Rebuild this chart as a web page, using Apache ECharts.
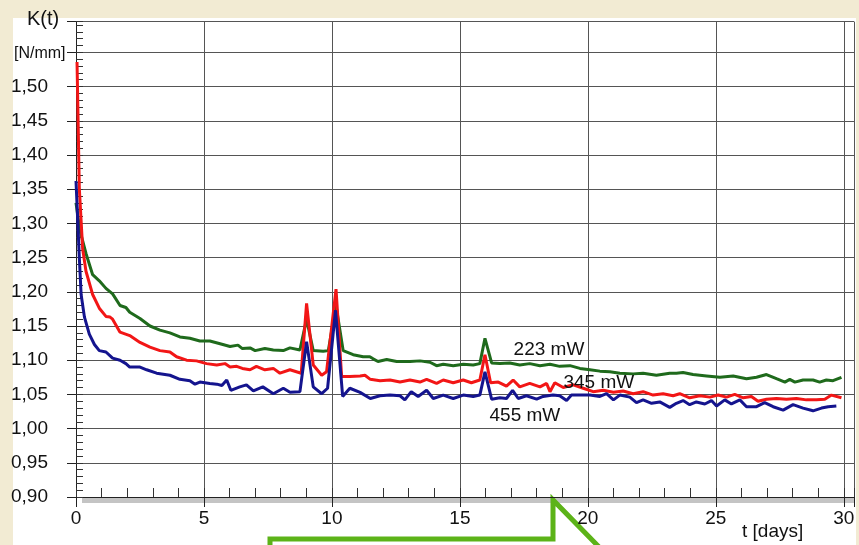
<!DOCTYPE html>
<html>
<head>
<meta charset="utf-8">
<script src="https://cdn.jsdelivr.net/npm/echarts@6/dist/echarts.min.js"></script>
<style>
html,body{margin:0;padding:0;background:#f2ebd3;}
#paper{position:absolute;left:13px;top:18px;width:843px;height:527px;background:#fff;}
#main{position:absolute;left:0;top:0;width:859px;height:545px;}
</style>
</head>
<body>
<div id="paper"></div>
<div id="main"></div>
<script>
// t [days], K(t) [N/mm]
var k223 = [[0.0,1.33],[0.15,1.29],[0.39,1.256],[0.65,1.225],[0.91,1.216],[1.17,1.205],[1.43,1.197],[1.72,1.18],[1.95,1.177],[2.1,1.17],[2.5,1.161],[2.89,1.15],[3.28,1.144],[3.67,1.14],[4.06,1.134],[4.45,1.132],[4.84,1.128],[5.23,1.128],[5.63,1.124],[6.02,1.12],[6.33,1.122],[6.5,1.117],[6.8,1.118],[7.0,1.114],[7.38,1.117],[7.71,1.115],[8.1,1.114],[8.36,1.118],[8.75,1.115],[9.01,1.16],[9.27,1.114],[9.66,1.113],[9.86,1.114],[10.16,1.18],[10.44,1.114],[10.83,1.108],[11.22,1.105],[11.48,1.105],[11.61,1.102],[11.8,1.098],[12.14,1.101],[12.53,1.098],[13.05,1.098],[13.44,1.099],[13.83,1.097],[14.09,1.092],[14.35,1.094],[14.74,1.092],[15.13,1.094],[15.52,1.093],[15.78,1.095],[15.98,1.132],[16.24,1.096],[16.56,1.095],[16.95,1.096],[17.34,1.093],[17.73,1.095],[18.13,1.092],[18.52,1.094],[18.9,1.091],[19.3,1.092],[19.69,1.088],[20.08,1.086],[20.47,1.084],[20.86,1.083],[21.25,1.081],[21.77,1.08],[22.16,1.081],[22.68,1.078],[23.2,1.081],[23.46,1.081],[23.72,1.082],[24.11,1.079],[24.64,1.077],[25.16,1.075],[25.68,1.077],[26.2,1.073],[26.59,1.075],[26.98,1.079],[27.37,1.073],[27.7,1.068],[27.89,1.072],[28.09,1.068],[28.41,1.071],[28.8,1.071],[29.06,1.068],[29.32,1.071],[29.58,1.07],[29.91,1.075]];

var k345 = [[0.04,1.536],[0.13,1.351],[0.26,1.263],[0.39,1.23],[0.65,1.196],[0.91,1.176],[1.17,1.164],[1.33,1.163],[1.43,1.16],[1.72,1.141],[2.1,1.136],[2.5,1.126],[2.89,1.119],[3.28,1.114],[3.67,1.112],[3.93,1.105],[4.32,1.10],[4.71,1.099],[5.1,1.095],[5.5,1.093],[5.82,1.095],[6.02,1.09],[6.28,1.091],[6.5,1.088],[6.8,1.086],[7.05,1.091],[7.38,1.086],[7.71,1.088],[7.97,1.081],[8.36,1.086],[8.8,1.081],[9.01,1.183],[9.27,1.093],[9.6,1.078],[9.79,1.083],[10.16,1.204],[10.38,1.076],[10.7,1.076],[11.1,1.077],[11.29,1.078],[11.5,1.072],[11.88,1.07],[12.27,1.071],[12.66,1.068],[13.05,1.071],[13.44,1.068],[13.7,1.072],[14.09,1.066],[14.35,1.071],[14.74,1.067],[15.13,1.071],[15.45,1.067],[15.78,1.071],[15.98,1.108],[16.2,1.067],[16.5,1.068],[16.82,1.062],[17.08,1.071],[17.34,1.061],[17.73,1.066],[18.13,1.061],[18.39,1.066],[18.52,1.054],[18.71,1.067],[19.04,1.06],[19.43,1.064],[19.82,1.059],[20.21,1.054],[20.6,1.056],[21.0,1.053],[21.38,1.055],[21.77,1.051],[22.16,1.054],[22.55,1.049],[22.94,1.051],[23.33,1.048],[23.59,1.051],[23.98,1.045],[24.38,1.048],[24.77,1.046],[25.09,1.049],[25.42,1.046],[25.74,1.05],[26.07,1.045],[26.39,1.047],[26.65,1.04],[26.98,1.043],[27.37,1.044],[27.76,1.043],[28.15,1.044],[28.54,1.042],[28.93,1.042],[29.26,1.043],[29.52,1.049],[29.91,1.045]];

var k455 = [[0.0,1.362],[0.13,1.25],[0.2,1.196],[0.33,1.163],[0.52,1.138],[0.72,1.123],[0.91,1.114],[1.17,1.112],[1.43,1.103],[1.72,1.10],[1.95,1.095],[2.1,1.09],[2.5,1.09],[2.76,1.086],[3.15,1.081],[3.67,1.078],[4.06,1.072],[4.45,1.07],[4.65,1.065],[4.84,1.068],[5.23,1.066],[5.5,1.065],[5.7,1.063],[5.89,1.071],[6.05,1.056],[6.4,1.061],[6.66,1.064],[6.93,1.055],[7.3,1.061],[7.71,1.051],[8.1,1.059],[8.36,1.053],[8.75,1.054],[9.01,1.127],[9.27,1.061],[9.6,1.051],[9.83,1.059],[10.14,1.173],[10.42,1.047],[10.7,1.059],[11.1,1.053],[11.5,1.044],[11.88,1.048],[12.27,1.049],[12.66,1.048],[12.85,1.042],[13.1,1.054],[13.37,1.047],[13.7,1.056],[13.96,1.044],[14.35,1.049],[14.74,1.044],[15.13,1.049],[15.52,1.047],[15.78,1.049],[15.98,1.083],[16.24,1.043],[16.56,1.045],[16.82,1.044],[17.06,1.056],[17.28,1.044],[17.6,1.048],[18.0,1.043],[18.25,1.047],[18.64,1.049],[18.9,1.048],[19.17,1.041],[19.36,1.049],[19.69,1.049],[20.08,1.049],[20.47,1.047],[20.73,1.051],[21.0,1.042],[21.25,1.049],[21.64,1.046],[21.9,1.038],[22.16,1.042],[22.49,1.037],[22.81,1.039],[23.2,1.031],[23.46,1.037],[23.72,1.041],[23.98,1.035],[24.24,1.039],[24.57,1.036],[24.83,1.041],[25.03,1.033],[25.35,1.042],[25.61,1.036],[25.94,1.042],[26.2,1.032],[26.59,1.032],[26.91,1.038],[27.24,1.032],[27.63,1.027],[28.02,1.035],[28.41,1.03],[28.8,1.026],[29.13,1.03],[29.39,1.032],[29.71,1.033]];

// where the power labels sit, in chart units
var tags = [
  {text:'223 mW', t:18.48, k:1.115},
  {text:'345 mW', t:20.43, k:1.0667},
  {text:'455 mW', t:17.54, k:1.0184}
];

var font = '"Liberation Sans", Arial, sans-serif';
var chart = echarts.init(document.getElementById('main'));

function tagPoint(tag){
  return {
    symbol:'circle', symbolSize:1, silent:true,
    itemStyle:{color:'transparent'},
    label:{show:true, position:'inside', color:'#111', fontSize:19, fontFamily:font, formatter:tag.text},
    data:[{coord:[tag.t, tag.k]}]
  };
}

function mkLine(name, data, color, tag){
  return {
    name:name, type:'line', data:data, symbol:'none',
    xAxisIndex:0, yAxisIndex:0,
    lineStyle:{color:color, width:3}, itemStyle:{color:color},
    markPoint:tagPoint(tag)
  };
}

var yFmt = function(v){
  var r = Math.round(v*100);
  if (v > 1.505 || r % 5 !== 0) return '';
  return (r/100).toFixed(2).replace('.', ',');
};

chart.setOption({
  animation:false,
  backgroundColor:'transparent',
  grid:{left:76, right:5, top:21.6, bottom:48},
  xAxis:[{
    type:'value', position:'bottom', min:0, max:30.4, interval:5,
    axisLine:{show:true, onZero:false, lineStyle:{color:'#222', width:1}},
    axisTick:{show:true, length:10, lineStyle:{color:'#222'}},
    axisLabel:{color:'#111', fontSize:19, fontFamily:font, margin:12,
      formatter:function(v){ return Math.abs(v % 5) < 1e-6 ? String(v) : ''; }},
    splitLine:{show:true, lineStyle:{color:'#555', width:1}}
  },{
    type:'value', position:'bottom', min:0, max:30.4, interval:1,
    axisLine:{show:false},
    axisTick:{show:true, inside:true, length:9, lineStyle:{color:'#333'}},
    axisLabel:{show:false}, splitLine:{show:false}
  }],
  yAxis:[{
    type:'value', position:'left', min:0.9, max:1.595, interval:0.05,
    axisLine:{show:true, lineStyle:{color:'#222', width:1}},
    axisTick:{show:true, length:9, lineStyle:{color:'#222'}},
    axisLabel:{color:'#111', fontSize:19, fontFamily:font, margin:28, formatter:yFmt},
    splitLine:{show:true, lineStyle:{color:'#555', width:1}}
  },{
    type:'value', position:'left', min:0.9, max:1.595, interval:0.01,
    axisLine:{show:false},
    axisTick:{show:true, inside:true, length:7, lineStyle:{color:'#333'}},
    axisLabel:{show:false}, splitLine:{show:false}
  }],
  series:[
    mkLine('223 mW', k223, '#1f6a1c', tags[0]),
    mkLine('345 mW', k345, '#f21616', tags[1]),
    mkLine('455 mW', k455, '#14148e', tags[2])
  ],
  graphic:[
    {type:'text', left:27, top:9, style:{text:'K(t)', fill:'#111', font:'20px ' + font}},
    {type:'text', left:14, top:46, style:{text:'[N/mm]', fill:'#111', font:'16px ' + font}},
    {type:'text', left:742, top:522, style:{text:'t [days]', fill:'#111', font:'19px ' + font}},
    // grey shadow under the time axis
    {type:'rect', shape:{x:82, y:498, width:773, height:5}, style:{fill:'#c4c4c4'}},
    // green callout outline at the bottom
    {type:'polyline', shape:{points:[[270,548],[270,539],[553,539],[553,500],[600,548]]},
      style:{stroke:'#5cb318', lineWidth:5, fill:null}}
  ]
});
</script>
</body>
</html>
